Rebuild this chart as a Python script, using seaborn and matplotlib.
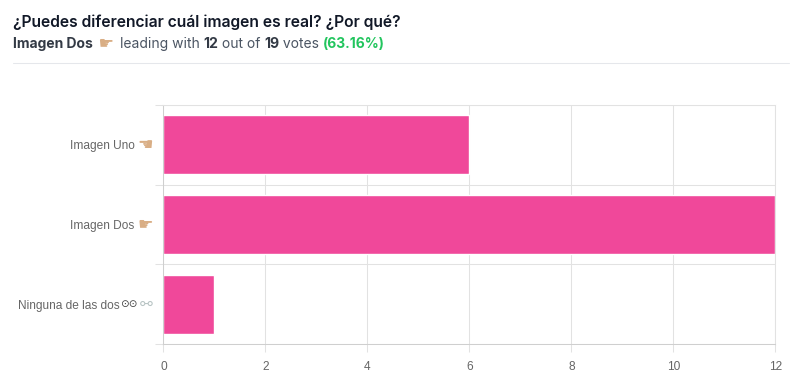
# Poll result chart: horizontal bars with a heading above

import matplotlib
matplotlib.use("Agg")
import matplotlib.pyplot as plt
import seaborn as sns
import pandas as pd

categories = ["Imagen Uno", "Imagen Dos", "Ninguna de las dos"]
votes = [6, 12, 1]
x_ticks = [0, 2, 4, 6, 8, 10, 12]
title = "¿Puedes diferenciar cuál imagen es real? ¿Por qué?"
subtitle = [
    ("Imagen Dos", "bold", "#333a45", "Inter", 10),
    (" \u261b ", "normal", "#d9ae85", "DejaVu Sans", 12.5),
    ("leading with ", "normal", "#4b5563", "Inter", 10),
    ("12", "bold", "#333a45", "Inter", 10.2),
    (" out of ", "normal", "#4b5563", "Inter", 10),
    ("19", "bold", "#333a45", "Inter", 10.2),
    (" votes ", "normal", "#4b5563", "Inter", 10),
    ("(63.16%)", "bold", "#22c55e", "Inter", 10),
]
label_emoji = ["\u261a", "\u261b", "\u26af"]
emoji_color = ["#d9ae85", "#d9ae85", "#b8c4c4"]
emoji_size = [12.5, 12.5, 11]
label_pad = [20.7, 20.7, 31.4]
eyes = "\u2299\u2299"

W, H = 801, 392
PINK = "#f0489a"
GRID = "#e2e2e2"

sns.set_theme(style="white", rc={"font.family": "Liberation Sans"})
fig = plt.figure(figsize=(W / 100, H / 100), dpi=100)
ax = fig.add_axes([163.4 / W, 1 - 344 / H, 611.9 / W, 239 / H])

dt = pd.DataFrame({"category": categories, "votes": votes})
sns.barplot(data=dt, x="votes", y="category", color=PINK, saturation=1, width=0.74, ax=ax)

ax.set_xlim(0, 12)
ax.set_ylim(2.5, -0.5)
ax.set_xlabel("")
ax.set_ylabel("")
ax.set_axisbelow(True)

ax.set_xticks(x_ticks)
ax.set_xticklabels([str(t) for t in x_ticks])
ax.set_yticks([-0.5, 0.5, 1.5, 2.5])
ax.set_yticklabels([])
ax.set_yticks([0, 1, 2], minor=True)
ax.set_yticklabels(categories, minor=True)
ax.grid(True, which="major", color=GRID, lw=0.75)
ax.tick_params(axis="both", which="major", length=5.5, width=0.75, color=GRID,
               labelsize=8.6, labelcolor="#666666", left=True, bottom=True, pad=7)
ax.tick_params(axis="y", which="minor", length=0, labelsize=8.6, labelcolor="#666666")
for tick, pad in zip(ax.yaxis.get_minor_ticks(), label_pad):
    tick.set_pad(pad)
for s in ax.spines.values():
    s.set_color(GRID)
    s.set_linewidth(0.75)
    s.set_visible(True)
ax.spines["left"].set_color("#cfcfcf")
ax.spines["bottom"].set_color("#cfcfcf")

# emoji next to the category names
for i, (glyph, col, size) in enumerate(zip(label_emoji, emoji_color, emoji_size)):
    ax.annotate(glyph, xy=(0, i), xycoords=ax.get_yaxis_transform(),
                xytext=(-7.5, 0), textcoords="offset points", ha="right", va="center",
                fontsize=size, color=col, family="DejaVu Sans")
ax.annotate(eyes, xy=(0, 2), xycoords=ax.get_yaxis_transform(),
            xytext=(-18.5, 0), textcoords="offset points", ha="right", va="center",
            fontsize=7.5, color="#444444", family="DejaVu Sans")

fig.text(13 / W, 1 - 22 / H, title, fontsize=11.25, fontweight="semibold", family="Inter",
         color="#111827", va="center")

# subtitle pieces laid out one after the other
renderer = fig.canvas.get_renderer()
x = 13
for piece, weight, col, fam, size in subtitle:
    t = fig.text(x / W, 1 - 44 / H, piece, fontsize=size, fontweight=weight, family=fam,
                 color=col, va="center")
    # spaces are not counted by the bbox, so measure with a stand-in on both sides
    t.set_text("|" + piece + "|")
    w = t.get_window_extent(renderer).width
    t.set_text("||")
    w -= t.get_window_extent(renderer).width
    t.set_text(piece)
    x += w

fig.add_artist(plt.Line2D([13 / W, 789 / W], [1 - 62.5 / H] * 2, color="#e5e7eb", lw=0.75))

plt.savefig("out.png", dpi=100)
